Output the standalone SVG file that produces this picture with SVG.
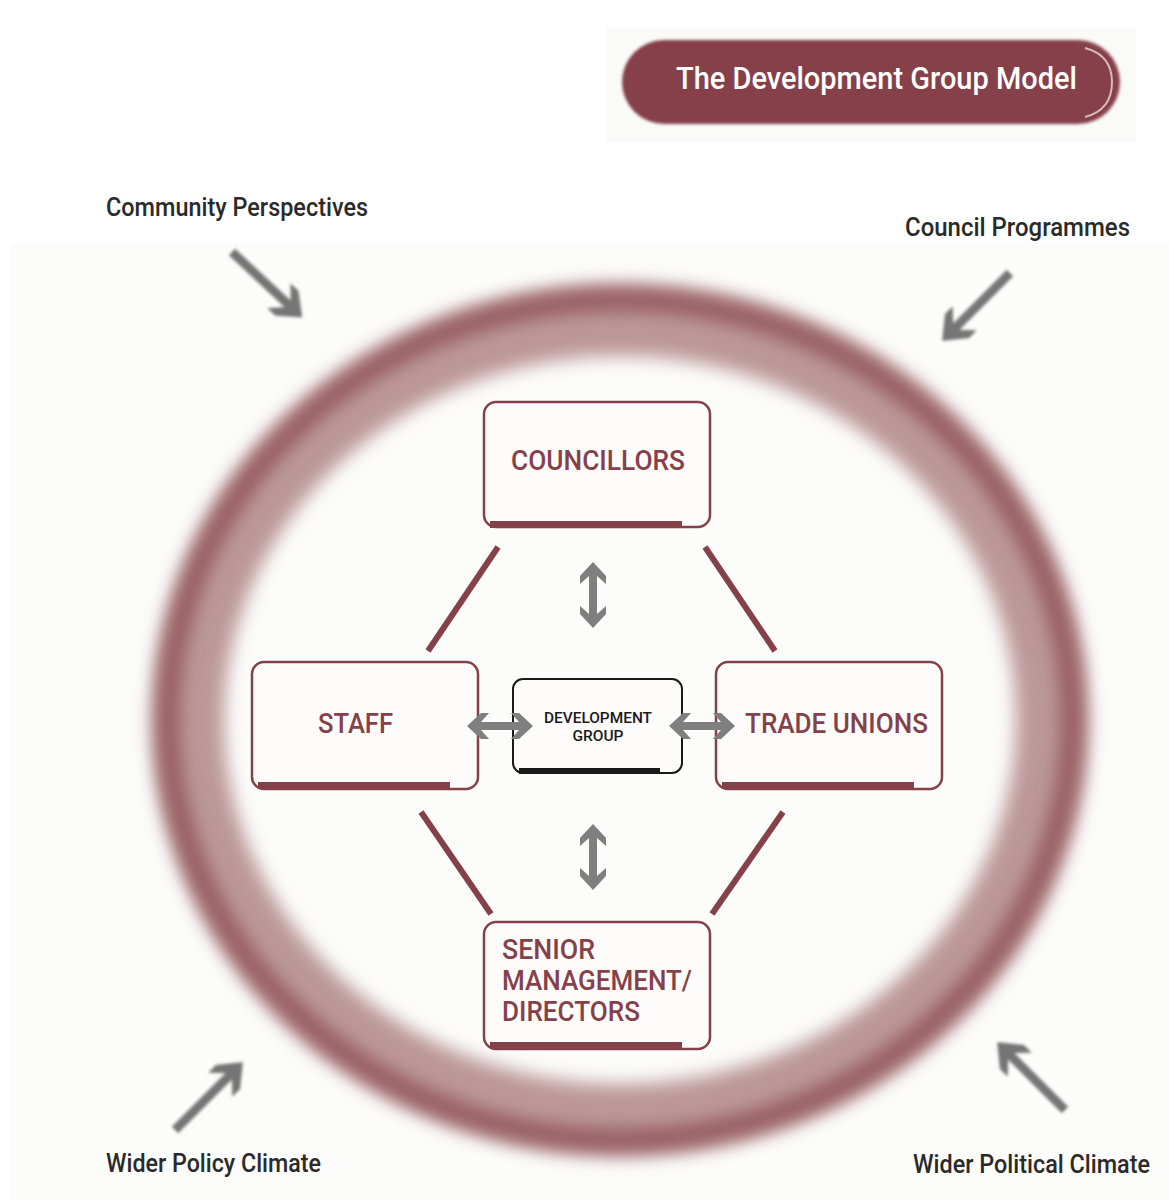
<svg xmlns="http://www.w3.org/2000/svg" xmlns:xlink="http://www.w3.org/1999/xlink" width="1169" height="1200" viewBox="0 0 1169 1200">
<style>
.lbl{font-family:Roboto,"Liberation Sans",sans-serif;font-size:25px;font-weight:500;fill:#2a2a2a}
.node{font-family:Roboto,"Liberation Sans",sans-serif;font-size:28px;font-weight:500;fill:#85414a}
.box{fill:#fdfcfb;stroke:#85414a;stroke-width:2.5}
.bar{fill:#85414a}
.conn{stroke:#85414a;stroke-width:6;stroke-linecap:butt}
.garrow{fill:#7f7f7f}
.oarrow{fill:#757575;filter:url(#soft)}
</style>
<defs>
<filter id="blurRing" x="-20%" y="-20%" width="140%" height="140%"><feGaussianBlur stdDeviation="9"/></filter>
<filter id="soft" x="-30%" y="-30%" width="160%" height="160%"><feGaussianBlur stdDeviation="1.6"/></filter>
<filter id="titleBlur" x="-10%" y="-30%" width="120%" height="160%"><feGaussianBlur stdDeviation="1.5"/></filter>
<path id="dbl" d="M0,0 L13,14 L13,22 L4,14 L4,52 L13,44 L13,52 L0,66 L-13,52 L-13,44 L-4,52 L-4,14 L-13,22 L-13,14 Z"/>
<path id="sgl" d="M0,-4.5 L76,-4.5 L64,-17 L75,-17 L96,0 L75,17 L64,17 L76,4.5 L0,4.5 Z"/>
</defs>
<rect width="1169" height="1200" fill="#ffffff"/>
<rect x="10" y="243" width="1159" height="957" fill="#fcfcfb"/>
<rect x="606" y="28" width="530" height="114" fill="#fafaf9"/>

<g id="title">
<rect x="622" y="40" width="498" height="84" rx="42" fill="#85414a" filter="url(#titleBlur)"/>
<path d="M1085,48 Q1112,55 1112,82 Q1112,110 1085,117" fill="none" stroke="#e9d8d9" stroke-width="2" opacity="0.8"/>
<text x="676" y="89" font-family="Roboto,'Liberation Sans',sans-serif" font-size="31" font-weight="500" fill="#ffffff" textLength="401" lengthAdjust="spacingAndGlyphs">The Development Group Model</text>
</g>

<g id="ring">
<ellipse cx="620" cy="720" rx="432" ry="400" fill="none" stroke="#bc9898" stroke-width="72" filter="url(#blurRing)"/>
<ellipse cx="620" cy="720" rx="452" ry="420" fill="none" stroke="#955a5e" stroke-width="22" filter="url(#blurRing)"/>
</g>

<g id="outer-arrows">
<use xlink:href="#sgl" class="oarrow" transform="translate(232,252) rotate(43)"/>
<use xlink:href="#sgl" class="oarrow" transform="translate(1010,273) rotate(135)"/>
<use xlink:href="#sgl" class="oarrow" transform="translate(175,1130) rotate(-45)"/>
<use xlink:href="#sgl" class="oarrow" transform="translate(1065,1110) rotate(-135)"/>
</g>

<g id="labels">
<text class="lbl" x="106" y="216" textLength="262" lengthAdjust="spacingAndGlyphs">Community Perspectives</text>
<text class="lbl" x="905" y="236" textLength="225" lengthAdjust="spacingAndGlyphs">Council Programmes</text>
<text class="lbl" x="106" y="1172" textLength="215" lengthAdjust="spacingAndGlyphs">Wider Policy Climate</text>
<text class="lbl" x="913" y="1173" textLength="237" lengthAdjust="spacingAndGlyphs">Wider Political Climate</text>
</g>

<g id="connectors">
<line class="conn" x1="498" y1="547" x2="428" y2="651"/>
<line class="conn" x1="705" y1="547" x2="775" y2="651"/>
<line class="conn" x1="421" y1="812" x2="491" y2="914"/>
<line class="conn" x1="783" y1="812" x2="712" y2="914"/>
</g>

<g id="councillors">
<rect class="box" x="484" y="402" width="226" height="125" rx="12"/>
<rect class="bar" x="490" y="521" width="192" height="7"/>
<text class="node" x="598" y="470" text-anchor="middle" textLength="174" lengthAdjust="spacingAndGlyphs">COUNCILLORS</text>
</g>

<g id="staff">
<rect class="box" x="252" y="662" width="226" height="127" rx="12"/>
<rect class="bar" x="258" y="782" width="192" height="7"/>
<text class="node" x="318" y="733" textLength="75" lengthAdjust="spacingAndGlyphs">STAFF</text>
</g>

<g id="development-group">
<rect x="513" y="679" width="169" height="94" rx="10" fill="#fdfcfb" stroke="#1a1a1a" stroke-width="2"/>
<rect x="519" y="768" width="141" height="6" fill="#1a1a1a"/>
<text x="598" y="723" text-anchor="middle" font-family="Roboto,'Liberation Sans',sans-serif" font-size="15" font-weight="500" fill="#1a1a1a" textLength="108" lengthAdjust="spacingAndGlyphs">DEVELOPMENT</text>
<text x="598" y="741" text-anchor="middle" font-family="Roboto,'Liberation Sans',sans-serif" font-size="15" font-weight="500" fill="#1a1a1a" textLength="51" lengthAdjust="spacingAndGlyphs">GROUP</text>
</g>

<g id="trade-unions">
<rect class="box" x="716" y="662" width="226" height="127" rx="12"/>
<rect class="bar" x="722" y="782" width="192" height="7"/>
<text class="node" x="745" y="733" textLength="183" lengthAdjust="spacingAndGlyphs">TRADE UNIONS</text>
</g>

<g id="senior-management">
<rect class="box" x="484" y="922" width="226" height="127" rx="12"/>
<rect class="bar" x="490" y="1042" width="192" height="7"/>
<text class="node" x="502" y="959" textLength="93" lengthAdjust="spacingAndGlyphs">SENIOR</text>
<text class="node" x="502" y="990" textLength="190" lengthAdjust="spacingAndGlyphs">MANAGEMENT/</text>
<text class="node" x="502" y="1021" textLength="138" lengthAdjust="spacingAndGlyphs">DIRECTORS</text>
</g>

<g id="arrow-connectors">
<use xlink:href="#dbl" class="garrow" transform="translate(593,562)"/>
<use xlink:href="#dbl" class="garrow" transform="translate(593,824)"/>
<use xlink:href="#dbl" class="garrow" transform="translate(533,726) rotate(90)"/>
<use xlink:href="#dbl" class="garrow" transform="translate(735,726) rotate(90)"/>
</g>
</svg>
